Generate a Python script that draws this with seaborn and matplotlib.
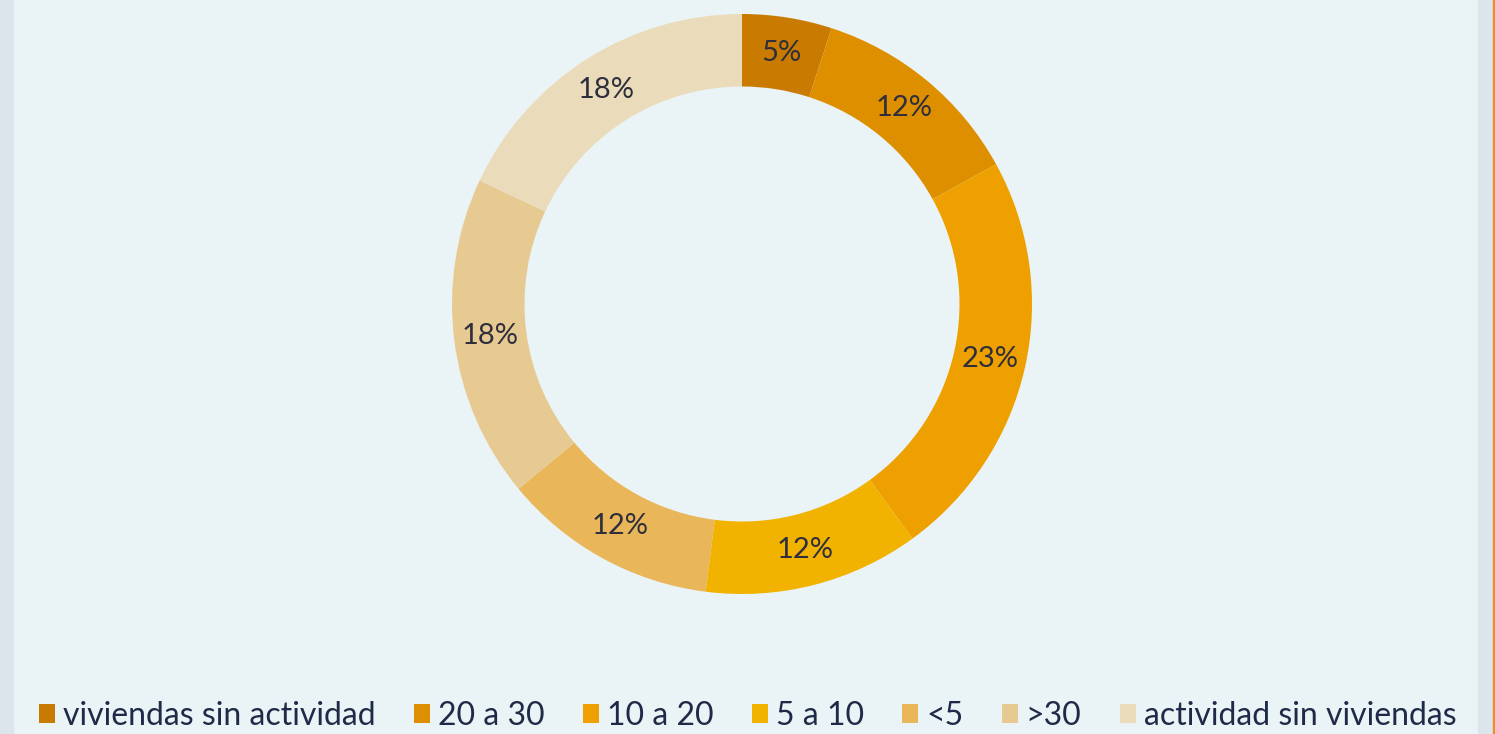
import matplotlib
matplotlib.use("Agg")
import matplotlib.pyplot as plt
import matplotlib.patches as mpatches
import seaborn as sns

categories = ["viviendas sin actividad", "20 a 30", "10 a 20", "5 a 10", "<5", ">30",
              "actividad sin viviendas"]
values = [5, 12, 23, 12, 12, 18, 18]
colors = ["#C97A00", "#DE8F00", "#EEA000", "#F1B200", "#E9B65A", "#E7CA92", "#EADCBA"]

sns.set_style("white")
plt.rcParams["font.family"] = ["Lato", "DejaVu Sans"]

W, H = 1495, 734
fig = plt.figure(figsize=(W / 100, H / 100), dpi=100)
fig.patch.set_facecolor("#EAF4F6")

# side strips
fig.patches.append(mpatches.Rectangle((0, 0), 13 / W, 1, transform=fig.transFigure,
                                      color="#DDE5EC", zorder=0))
fig.patches.append(mpatches.Rectangle((1478 / W, 0), 15 / W, 1, transform=fig.transFigure,
                                      color="#DDE5EC", zorder=0))
fig.patches.append(mpatches.Rectangle((1493 / W, 0), 2 / W, 1, transform=fig.transFigure,
                                      color="#F08A2A", zorder=0))

cx, cy, r = 742, 304, 290
ax = fig.add_axes([(cx - r) / W, (H - cy - r) / H, 2 * r / W, 2 * r / H])
ax.set_facecolor("none")
palette = sns.color_palette(colors)
wedges, texts, autotexts = ax.pie(
    values, colors=palette, startangle=90, counterclock=False, radius=1.0,
    wedgeprops=dict(width=0.25, edgecolor="none"),
    autopct=lambda p: f"{p:.0f}%", pctdistance=0.875,
    textprops=dict(fontsize=21, color="#2E2E3C"))
ax.set_xlim(-1, 1)
ax.set_ylim(-1, 1)
ax.set_aspect("equal")
ax.axis("off")

handles = [mpatches.Patch(facecolor=c, edgecolor="none") for c in palette]
leg = fig.legend(handles, categories, loc="lower center", bbox_to_anchor=(0.5, -0.035),
                 ncol=7, frameon=False, fontsize=23, handlelength=0.5, handleheight=0.5,
                 handletextpad=0.25, columnspacing=1.2)
for t in leg.get_texts():
    t.set_color("#1F2A48")

fig.savefig("out.png", dpi=100, facecolor=fig.get_facecolor())
